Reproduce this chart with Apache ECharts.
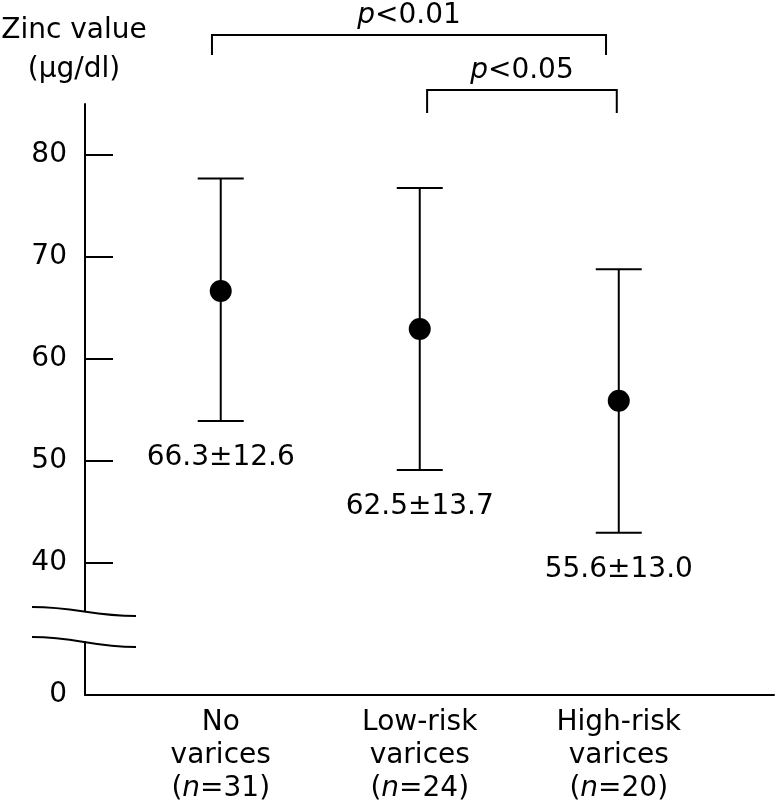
<!DOCTYPE html>
<html>
<head>
<meta charset="utf-8">
<script src="https://cdn.jsdelivr.net/npm/echarts@6/dist/echarts.min.js"></script>
<style>html,body{margin:0;padding:0;background:#fff;}#c{width:776px;height:811px;}</style>
</head>
<body>
<div id="c"></div>
<script>
// ---- data ----
const groupNames = [['No', 'varices'], ['Low-risk', 'varices'], ['High-risk', 'varices']];
const groupN = [31, 24, 20];
const groupX = [1, 2, 3];
const means = [66.65, 62.92, 55.88];
const upperBar = [77.7, 76.75, 68.78];
const lowerBar = [53.9, 49.08, 42.93];
const statLabels = ['66.3±12.6', '62.5±13.7', '55.6±13.0'];
const yTickValues = [27, 40, 50, 60, 70, 80];
const yTickLabels = ['0', '40', '50', '60', '70', '80'];
const comparisons = [
  { from: 1, to: 3, label: '<0.01' },
  { from: 2, to: 3, label: '<0.05' }
];

// ---- layout ----
const FONT = '"DejaVu Sans", Verdana, sans-serif';
const FS = 28;
const INK = '#000';
const X_MIN = 0.318, X_MAX = 3.78, Y_MIN = 27, Y_MAX = 85;
const BREAK_VALUE = 33.77;
const bracketLayout = [
  { x1: 0.956, x2: 2.936, y: 91.77, drop: 20 },
  { x1: 2.037, x2: 2.99, y: 86.37, drop: 23 }
];

const chart = echarts.init(document.getElementById('c'), null, { renderer: 'canvas' });

const option = {
  animation: false,
  backgroundColor: '#fff',
  grid: { left: 85, right: 2, top: 104, bottom: 116, containLabel: false },
  graphic: [{
    type: 'text', x: 74, y: 50, z: 10,
    style: {
      text: 'Zinc value\n(µg/dl)', fontFamily: FONT, fontSize: FS, fill: INK,
      align: 'center', verticalAlign: 'middle', lineHeight: 39
    }
  }],
  xAxis: {
    type: 'value', min: X_MIN, max: X_MAX,
    splitLine: { show: false },
    axisTick: { show: false },
    axisLine: { show: true, onZero: false, lineStyle: { color: INK, width: 2 } },
    axisLabel: {
      customValues: groupX,
      margin: 11,
      fontFamily: FONT, fontSize: FS, color: INK, lineHeight: 33,
      formatter: function (v) {
        const i = groupX.indexOf(Math.round(v));
        if (i < 0) return '';
        return groupNames[i][0] + '\n' + groupNames[i][1] + '\n({i|n}=' + groupN[i] + ')';
      },
      rich: {
        i: { fontStyle: 'italic', fontFamily: FONT, fontSize: FS, color: INK, lineHeight: 33 }
      }
    }
  },
  yAxis: {
    type: 'value', min: Y_MIN, max: Y_MAX,
    splitLine: { show: false },
    axisLine: { show: true, onZero: false, lineStyle: { color: INK, width: 2 } },
    axisTick: {
      show: true, inside: true, length: 28,
      customValues: yTickValues.slice(1),
      lineStyle: { color: INK, width: 2 }
    },
    axisLabel: {
      customValues: yTickValues,
      margin: 18, fontFamily: FONT, fontSize: FS, color: INK,
      formatter: function (v) {
        const i = yTickValues.indexOf(v);
        return i < 0 ? '' : yTickLabels[i];
      }
    }
  },
  series: [
    {
      type: 'custom',
      name: 'errorbars',
      clip: false,
      z: 3,
      data: groupX.map((x, i) => [x, lowerBar[i], upperBar[i]]),
      renderItem: function (params, api) {
        const x = api.value(0);
        const pLo = api.coord([x, api.value(1)]);
        const pHi = api.coord([x, api.value(2)]);
        const hw = 23;
        const ls = { stroke: INK, lineWidth: 2 };
        return {
          type: 'group',
          children: [
            { type: 'line', shape: { x1: pLo[0], y1: pLo[1], x2: pHi[0], y2: pHi[1] }, style: ls },
            { type: 'line', shape: { x1: pHi[0] - hw, y1: pHi[1], x2: pHi[0] + hw, y2: pHi[1] }, style: ls },
            { type: 'line', shape: { x1: pLo[0] - hw, y1: pLo[1], x2: pLo[0] + hw, y2: pLo[1] }, style: ls },
            {
              type: 'text', x: pLo[0], y: pLo[1] + 37,
              style: {
                text: statLabels[params.dataIndex], fontFamily: FONT, fontSize: FS, fill: INK,
                align: 'center', verticalAlign: 'middle'
              }
            }
          ]
        };
      }
    },
    {
      type: 'scatter',
      name: 'mean',
      z: 5,
      symbol: 'circle',
      symbolSize: 22,
      itemStyle: { color: '#000', opacity: 1 },
      data: groupX.map((x, i) => [x, means[i]])
    },
    {
      type: 'custom',
      name: 'brackets',
      clip: false,
      z: 3,
      data: comparisons.map((c, i) => [c.from, c.to, i]),
      renderItem: function (params, api) {
        const b = bracketLayout[params.dataIndex];
        const L = api.coord([b.x1, b.y]);
        const R = api.coord([b.x2, b.y]);
        const ls = { stroke: INK, lineWidth: 2, fill: null };
        return {
          type: 'group',
          children: [
            { type: 'polyline', shape: { points: [[L[0], L[1] + b.drop], [L[0], L[1]], [R[0], R[1]], [R[0], R[1] + b.drop]] }, style: ls },
            {
              type: 'text', x: (L[0] + R[0]) / 2, y: L[1] - 19,
              style: {
                text: '{i|p}' + comparisons[params.dataIndex].label,
                fontFamily: FONT, fontSize: FS, fill: INK,
                align: 'center', verticalAlign: 'middle',
                rich: { i: { fontStyle: 'italic', fontFamily: FONT, fontSize: FS, fill: INK } }
              }
            }
          ]
        };
      }
    },
    {
      type: 'custom',
      name: 'axisbreak',
      clip: false,
      z: 6,
      data: [[X_MIN, BREAK_VALUE]],
      renderItem: function (params, api) {
        const A = api.coord([api.value(0), api.value(1)]);
        const ax = A[0], ay = A[1];
        const ls = { stroke: INK, lineWidth: 2, fill: null };
        const wave = (dy0, dy1) => ({
          type: 'bezierCurve',
          shape: {
            x1: ax - 53, y1: ay + dy0,
            cpx1: ax - 8, cpy1: ay + dy0,
            cpx2: ax + 6, cpy2: ay + dy1,
            x2: ax + 51, y2: ay + dy1
          },
          style: ls
        });
        return {
          type: 'group',
          children: [
            { type: 'rect', shape: { x: ax - 3, y: ay - 14, width: 6, height: 29 }, style: { fill: '#fff' } },
            wave(-19, -10),
            wave(11, 21)
          ]
        };
      }
    }
  ]
};

chart.setOption(option);
</script>
</body>
</html>
